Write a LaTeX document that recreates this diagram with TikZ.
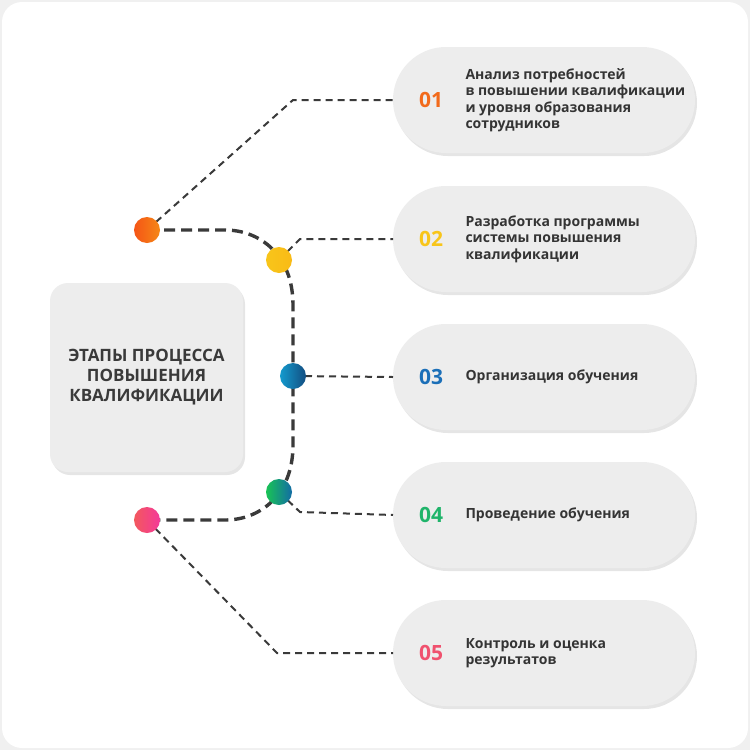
\documentclass[tikz,border=0pt]{standalone}
\usepackage{fontspec}
\setmainfont{Open Sans}
\usetikzlibrary{shadows}
\definecolor{c1}{HTML}{F26A1B}
\definecolor{c2}{HTML}{F8C51A}
\definecolor{c3}{HTML}{1B6FB8}
\definecolor{c4}{HTML}{1FB46A}
\definecolor{c5}{HTML}{F0516E}
\definecolor{ln}{HTML}{3A3A3A}
\definecolor{pillc}{HTML}{EDEDED}
\begin{document}
\begin{tikzpicture}[x=1pt,y=-1pt,
  pill/.style={fill=pillc,rounded corners=53pt,drop shadow={shadow xshift=2pt,shadow yshift=-3pt,opacity=0.2,fill=gray}},
  dot/.style={circle,minimum size=26pt,inner sep=0pt},
  thin/.style={draw=ln,line width=2pt,dash pattern=on 7pt off 5pt},
  thick/.style={draw=ln,line width=3.4pt,dash pattern=on 11pt off 6pt},
  num/.style={font=\fontsize{21}{22}\selectfont\bfseries,anchor=center},
  txt/.style={font=\fontsize{14}{16.5}\selectfont\bfseries,text=ln!90!black,anchor=west,align=left}]
\useasboundingbox (0,0) rectangle (750,750);
\fill[gray!12] (0,0) rectangle (750,750);
\fill[white,rounded corners=20pt] (2,2) rectangle (748,748);
% left box
\node[fill=pillc,rounded corners=18pt,minimum width=193pt,minimum height=189pt,inner sep=0pt,
  drop shadow={shadow xshift=2pt,shadow yshift=-3pt,opacity=0.2,fill=gray},
  font=\fontsize{17}{20}\selectfont\bfseries,text=ln,align=center] (title) at (146.5,377.5)
  {ЭТАПЫ ПРОЦЕССА\\ПОВЫШЕНИЯ\\КВАЛИФИКАЦИИ};
% pills
\foreach \i/\y in {1/100,2/239,3/377,4/515,5/653}{
  \fill[pill] (393,\y-53) rectangle (695,\y+53);
  \coordinate (p\i) at (393,\y);
}
\node[num,text=c1] at (431,100) {01};
\node[num,text=c2] at (431,239) {02};
\node[num,text=c3] at (431,377) {03};
\node[num,text=c4] at (431,515) {04};
\node[num,text=c5] at (431,653) {05};
\node[txt] at (462,100) {Анализ потребностей\\в повышении квалификации\\и уровня образования\\сотрудников};
\node[txt] at (462,239) {Разработка программы\\системы повышения\\квалификации};
\node[txt] at (462,377) {Организация обучения};
\node[txt] at (462,515) {Проведение обучения};
\node[txt] at (462,653) {Контроль и оценка\\результатов};
% dots
\coordinate (d1) at (147,230);
\coordinate (d2) at (279,260);
\coordinate (d3) at (293,376);
\coordinate (d4) at (279,492);
\coordinate (d5) at (147,520);
\coordinate (k1) at (293,100);
\coordinate (k2) at (300,239);
\coordinate (k4) at (300,512);
\coordinate (k5) at (277,653);
% thin connectors
\draw[thin] (d1) -- (k1) -- (p1);
\draw[thin] (d2) -- (k2) -- (p2);
\draw[thin] (d3) -- (p3);
\draw[thin] (d4) -- (k4) -- (p4);
\draw[thin] (d5) -- (k5) -- (p5);
% thick path
\draw[thick] (d1) -- (225,230) .. controls (260,230) and (293,255) .. (293,305) -- (293,445) .. controls (293,495) and (260,520) .. (225,520) -- (d5);
\node[dot,left color=c1!80!red,right color=c1!80!yellow] (n1) at (d1) {};
\node[dot,left color=c2,right color=c2!85!orange] (n2) at (d2) {};
\node[dot,left color=c3!70!cyan,right color=c3!70!black] (n3) at (d3) {};
\node[dot,left color=c4!80!green,right color=c4!60!blue] (n4) at (d4) {};
\node[dot,left color=c5!85!orange,right color=c5!70!magenta] (n5) at (d5) {};
\end{tikzpicture}
\end{document}
